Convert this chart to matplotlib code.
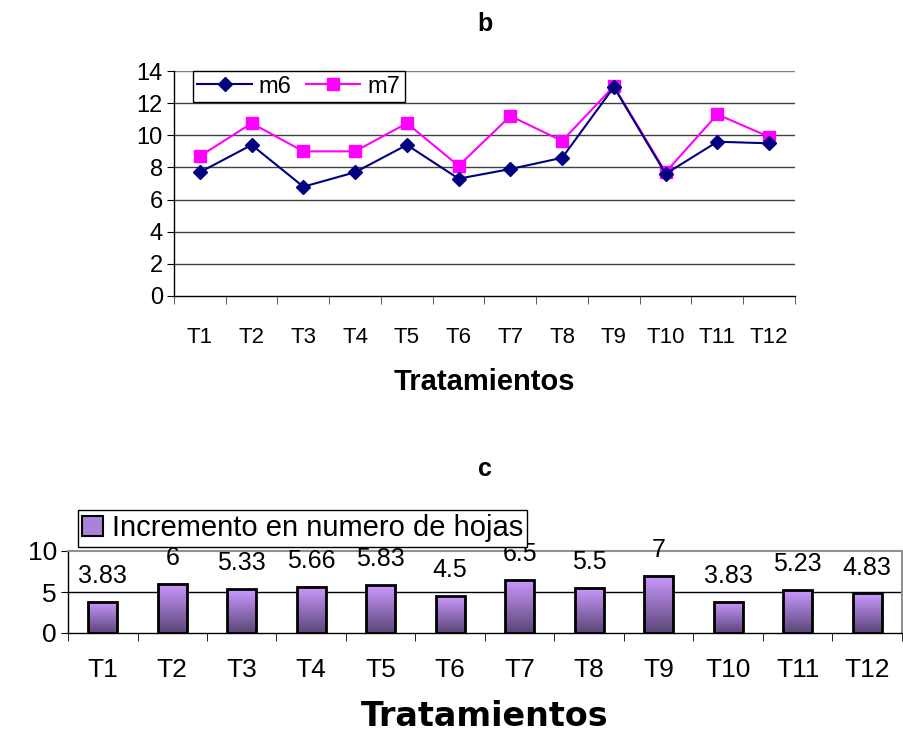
import numpy as np
import matplotlib
matplotlib.use("Agg")
import matplotlib.pyplot as plt
from matplotlib.colors import LinearSegmentedColormap
from matplotlib.patches import Patch

plt.rcParams.update({
    "font.family": ["Liberation Sans", "DejaVu Sans"],
    "axes.linewidth": 1.0,
})

# ── data ────────────────────────────────────────────────────────────────
treatments = ["T1", "T2", "T3", "T4", "T5", "T6", "T7", "T8", "T9", "T10", "T11", "T12"]
m6 = [7.7, 9.4, 6.8, 7.7, 9.4, 7.3, 7.9, 8.6, 13.0, 7.6, 9.6, 9.5]
m7 = [8.7, 10.75, 9.0, 9.0, 10.75, 8.1, 11.2, 9.65, 13.05, 7.7, 11.3, 9.9]
incremento = [3.83, 6, 5.33, 5.66, 5.83, 4.5, 6.5, 5.5, 7, 3.83, 5.23, 4.83]
inc_labels = ["3.83", "6", "5.33", "5.66", "5.83", "4.5", "6.5", "5.5", "7", "3.83", "5.23", "4.83"]

W, H = 904, 733
fig = plt.figure(figsize=(W / 100, H / 100), dpi=100)

def px_axes(x0, x1, ytop, ybot):
    return fig.add_axes([x0 / W, 1 - ybot / H, (x1 - x0) / W, (ybot - ytop) / H])

x = np.arange(len(treatments)) + 0.5

# ── panel b: lines ──────────────────────────────────────────────────────
ax1 = px_axes(174, 795, 71, 296)
ax1.set_xlim(0, len(treatments))
ax1.set_ylim(0, 14)
ax1.set_yticks(range(0, 15, 2))
for v in range(2, 15, 2):
    ax1.axhline(v, color="#404040" if v < 14 else "#808080", linewidth=1.0, zorder=0)
ax1.plot(x, m6, color="#000080", marker="D", markersize=7, linewidth=1.5, label="m6", zorder=3)
ax1.plot(x, m7, color="#FF00FF", marker="s", markersize=8, linewidth=1.5, label="m7", zorder=2)
ax1.set_xticks(np.arange(0, len(treatments) + 1), minor=True)
ax1.set_xticks(x)
ax1.set_xticklabels(treatments, fontsize=16)
ax1.tick_params(axis="x", which="major", length=0, pad=22)
ax1.tick_params(axis="x", which="minor", length=6, direction="out", color="#404040")
ax1.tick_params(axis="y", labelsize=17, length=5, direction="out", pad=3)
for s in ("top", "right"):
    ax1.spines[s].set_visible(False)
ax1.set_xlabel("Tratamientos", fontsize=21, fontweight="bold", labelpad=15)
ax1.set_title("b", fontsize=18, fontweight="bold", pad=29)
leg1 = ax1.legend(loc="upper left", bbox_to_anchor=(0.03, 1.0), ncol=2, fontsize=17,
                  frameon=True, fancybox=False, edgecolor="black", framealpha=1,
                  handlelength=2.3, columnspacing=0.6, borderpad=0.2, handletextpad=0.3,
                  borderaxespad=0)
leg1.get_frame().set_linewidth(1.0)

# ── panel c: gradient bars ──────────────────────────────────────────────
ax2 = px_axes(68, 902, 551, 633)
ax2.set_xlim(0, len(treatments))
ax2.set_ylim(0, 10)
ax2.axhline(5, color="black", linewidth=1.0, zorder=0)
cmap = LinearSegmentedColormap.from_list("purp", ["#5A4678", "#CC99FF"])
grad = np.linspace(0, 1, 64).reshape(-1, 1)
bw = 0.42
for xi, v in zip(x, incremento):
    ax2.imshow(grad, extent=[xi - bw / 2, xi + bw / 2, 0, v], origin="lower",
               cmap=cmap, aspect="auto", zorder=2)
bars = ax2.bar(x, incremento, width=bw, facecolor="none", edgecolor="black",
               linewidth=2.0, zorder=3)
for xi, v, lab in zip(x, incremento, inc_labels):
    ax2.annotate(lab, (xi, v), xytext=(0, 10), textcoords="offset points",
                 ha="center", va="bottom", fontsize=18, zorder=4)
ax2.set_xlim(0, len(treatments))
ax2.set_ylim(0, 10)
ax2.set_yticks([0, 5, 10])
ax2.set_xticks(np.arange(0, len(treatments) + 1), minor=True)
ax2.set_xticks(x)
ax2.set_xticklabels(treatments, fontsize=19)
ax2.tick_params(axis="x", which="major", length=0, pad=18)
ax2.tick_params(axis="x", which="minor", length=6, direction="out")
ax2.tick_params(axis="y", labelsize=19, length=5, direction="out", pad=3)
for s in ("top", "right"):
    ax2.spines[s].set_color("#909090")
    ax2.spines[s].set_linewidth(1.5)
ax2.set_xlabel("Tratamientos", fontsize=24, fontweight="bold", labelpad=13,
               family="DejaVu Sans")
ax2.set_title("c", fontsize=18, fontweight="bold", pad=54)
leg2 = ax2.legend([Patch(facecolor="#A883D8", edgecolor="black", linewidth=1.5)],
                  ["Incremento en numero de hojas"], loc="upper left",
                  bbox_to_anchor=(0.012, 1.5), fontsize=21, frameon=True, fancybox=False,
                  edgecolor="black", framealpha=1, handlelength=0.7, handleheight=0.7,
                  borderpad=0.15, handletextpad=0.3, borderaxespad=0)
leg2.get_frame().set_linewidth(1.0)

fig.savefig("out.png", dpi=100)
